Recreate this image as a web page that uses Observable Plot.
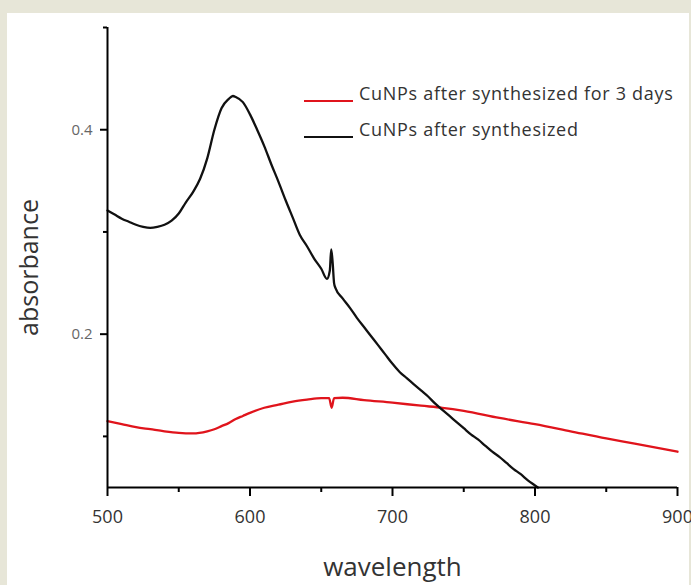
<!DOCTYPE html>
<html>
<head>
<meta charset="utf-8">
<script src="https://cdn.jsdelivr.net/npm/d3@7"></script>
<script src="https://cdn.jsdelivr.net/npm/@observablehq/plot@0.6"></script>
<style>
  html, body { margin: 0; padding: 0; }
  body { width: 691px; height: 585px; background: #e7e6d8; position: relative; overflow: hidden; font-family: "Open Sans", sans-serif; }
  #sheet { position: absolute; left: 7px; top: 13px; width: 682px; height: 572px; background: #fff; }
  #chart { position: absolute; left: 0; top: 0; }
  .legend { position: absolute; left: 304px; font-size: 18px; color: #333; line-height: 18px; }
  .legend .row { position: absolute; left: 0; white-space: nowrap; }
  .legend .swatch { position: absolute; left: 0; width: 49px; height: 2px; }
  .legend .label { position: absolute; left: 55px; top: -16px; white-space: nowrap; letter-spacing: 0.7px; }
</style>
</head>
<body>
<div id="sheet"></div>
<div id="chart"></div>
<div class="legend" id="legend"></div>
<script>
// UV-vis absorbance spectra of copper nanoparticles
const seriesNames = ["CuNPs after synthesized for 3 days", "CuNPs after synthesized"];
const seriesColors = ["#e0141c", "#111111"];

// freshly synthesized CuNPs
const freshWavelength = [500, 505, 510, 515, 520, 525, 530, 535, 540, 545, 550, 555, 560, 565, 570, 575, 580, 585, 588, 590, 595, 600, 605, 610, 615, 620, 625, 630, 635, 640, 645, 650, 654, 656, 657, 658, 659, 660, 665, 670, 675, 680, 685, 690, 695, 700, 705, 710, 715, 720, 725, 730, 735, 740, 745, 750, 755, 760, 765, 770, 775, 780, 785, 790, 795, 800, 802];
const freshAbsorbance = [0.321, 0.317, 0.313, 0.310, 0.307, 0.305, 0.304, 0.305, 0.307, 0.311, 0.318, 0.329, 0.339, 0.352, 0.372, 0.400, 0.421, 0.430, 0.433, 0.432, 0.427, 0.415, 0.400, 0.384, 0.366, 0.349, 0.331, 0.314, 0.297, 0.286, 0.274, 0.264, 0.254, 0.262, 0.283, 0.270, 0.250, 0.245, 0.235, 0.226, 0.216, 0.207, 0.198, 0.189, 0.180, 0.171, 0.163, 0.157, 0.151, 0.145, 0.139, 0.132, 0.126, 0.120, 0.114, 0.108, 0.102, 0.097, 0.091, 0.085, 0.080, 0.074, 0.068, 0.063, 0.057, 0.052, 0.050];

// the same CuNPs three days later
const agedWavelength = [500, 510, 520, 530, 540, 550, 560, 570, 575, 580, 585, 590, 595, 600, 610, 620, 630, 640, 650, 655.5, 657.3, 659, 665, 680, 700, 720, 735, 750, 775, 800, 825, 850, 870, 900];
const agedAbsorbance = [0.115, 0.112, 0.109, 0.107, 0.105, 0.1035, 0.103, 0.105, 0.107, 0.110, 0.113, 0.117, 0.120, 0.123, 0.128, 0.131, 0.134, 0.136, 0.1375, 0.1375, 0.128, 0.1375, 0.1378, 0.1355, 0.133, 0.130, 0.128, 0.125, 0.118, 0.112, 0.105, 0.098, 0.093, 0.085];

const xDomain = [500, 900];
const yDomain = [0.05, 0.5];
const xMajorTicks = [500, 600, 700, 800, 900];
const xMinorTicks = [550, 650, 750, 850];
const yMajorTicks = [0.2, 0.4];
const yMinorTicks = [0.1, 0.3, 0.5];
const xLabel = "wavelength";
const yLabel = "absorbance";

const rows = [
  ...agedWavelength.map((w, i) => ({series: seriesNames[0], wavelength: w, absorbance: agedAbsorbance[i]})),
  ...freshWavelength.map((w, i) => ({series: seriesNames[1], wavelength: w, absorbance: freshAbsorbance[i]}))
];

const chart = Plot.plot({
  width: 691,
  height: 585,
  marginLeft: 107,
  marginRight: 14,
  marginTop: 27,
  marginBottom: 98,
  style: {fontFamily: "Open Sans, sans-serif", background: "transparent", overflow: "visible"},
  x: {domain: xDomain},
  y: {domain: yDomain},
  color: {domain: seriesNames, range: seriesColors},
  marks: [
    Plot.line(rows, {x: "wavelength", y: "absorbance", z: "series", stroke: "series", strokeWidth: 2.3, curve: "monotone-x"}),
    Plot.ruleX([xDomain[0]], {stroke: "#000", strokeWidth: 2}),
    Plot.ruleY([yDomain[0]], {stroke: "#000", strokeWidth: 2}),
    Plot.axisX({ticks: xMajorTicks, tickSize: 9, tickPadding: 14, fontSize: 18, stroke: "#000", fill: "#333", strokeWidth: 2, tickFormat: d => String(d), label: null}),
    Plot.axisX({ticks: xMinorTicks, tickSize: 5, stroke: "#000", fill: "none", strokeWidth: 2, label: null}),
    Plot.axisY({ticks: yMajorTicks, tickSize: 7, tickPadding: 8, fontSize: 15, stroke: "#000", fill: "#666", strokeWidth: 2, tickFormat: d => d.toFixed(1), label: null}),
    Plot.axisY({ticks: yMinorTicks, tickSize: 4, stroke: "#000", fill: "none", strokeWidth: 2, label: null}),
    Plot.text([xLabel], {frameAnchor: "bottom", textAnchor: "middle", dy: 88, lineAnchor: "bottom", fontSize: 26, fill: "#333"}),
    Plot.text([yLabel], {frameAnchor: "left", textAnchor: "middle", rotate: -90, dx: -78, dy: 10, fontSize: 25, fill: "#333"})
  ]
});
document.getElementById("chart").append(chart);

// legend in the upper right of the frame
const legend = document.getElementById("legend");
const legendTops = [100, 136];
seriesNames.forEach((name, i) => {
  const row = document.createElement("div");
  row.className = "row";
  row.style.top = legendTops[i] + "px";
  const sw = document.createElement("div");
  sw.className = "swatch";
  sw.style.background = seriesColors[i];
  const lab = document.createElement("div");
  lab.className = "label";
  lab.textContent = name;
  row.append(sw, lab);
  legend.append(row);
});
</script>
</body>
</html>
